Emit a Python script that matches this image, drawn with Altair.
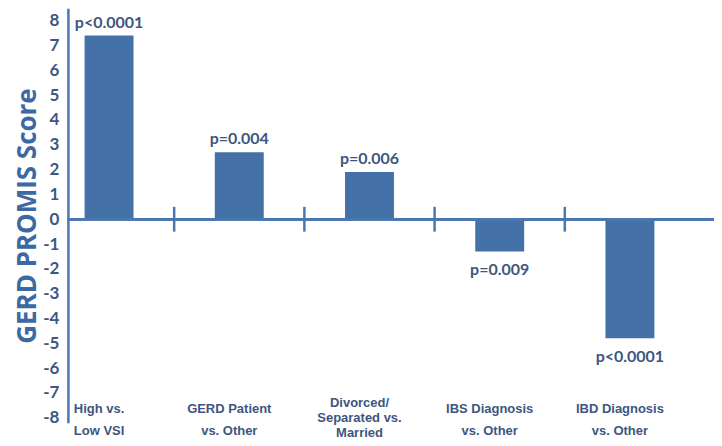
import altair as alt
import pandas as pd

categories = ["High vs.\nLow VSI", "GERD Patient\nvs. Other", "Divorced/\nSeparated vs.\nMarried",
              "IBS Diagnosis\nvs. Other", "IBD Diagnosis\nvs. Other"]
values = [7.4, 2.7, 1.9, -1.3, -4.8]
pvals = ["p<0.0001", "p=0.004", "p=0.006", "p=0.009", "p<0.0001"]
y_ticks = list(range(-8, 9))

BAR = "#4472A8"
LINE = "#4A78AE"
TXT = "#3E5680"
TITLE = "#3D69A3"

df = pd.DataFrame({"cat": categories, "val": values, "p": pvals,
                   "lines": [c.count("\n") + 1 for c in categories]})
df["sign"] = ["pos" if v >= 0 else "neg" for v in values]
div_df = pd.DataFrame({"cat": categories[1:]})

xscale = alt.Scale(domain=categories, range=[-24, 628], paddingInner=0, paddingOuter=0)
yscale = alt.Scale(domain=[-8.2, 8.5], nice=False, zero=False)

YAX = alt.Axis(values=y_ticks, tickSize=0, ticks=False, grid=False, labelPadding=9,
               labelOverlap=False, labelExpr="toString(datum.value)",
               labelFontSize=17, labelFontWeight="bold", labelColor=TXT,
               labelFont="Lato", domainColor=LINE, domainWidth=2.5,
               title="GERD PROMIS Score", titleFont="Open Sans", titleFontSize=26,
               titleFontWeight="bold", titleColor=TITLE, titlePadding=2)

X = alt.X("cat:N", scale=xscale, sort=categories, axis=None)
Yq = alt.Y("val:Q", scale=yscale, axis=YAX, title="GERD PROMIS Score")

base = alt.Chart(df)

bars = base.mark_bar(size=49, color=BAR).encode(x=X, y=Yq)

zero = alt.Chart(df).mark_rule(color=LINE, strokeWidth=2.5).encode(
    x=alt.value(0), x2=alt.value(647), y=alt.datum(0, axis=YAX, scale=yscale)
)

dividers = alt.Chart(div_df).mark_rule(color=LINE, strokeWidth=2.5).encode(
    x=alt.X("cat:N", scale=xscale, sort=categories, axis=None, bandPosition=0),
    y=alt.datum(0.5, axis=YAX, scale=yscale), y2=alt.datum(-0.5)
)

p_pos = base.transform_filter("datum.sign == 'pos'").mark_text(
    baseline="bottom", dy=-5, font="Lato", fontWeight="bold", fontSize=16, color=TXT
).encode(x=X, y=Yq, text="p:N")

p_neg = base.transform_filter("datum.sign == 'neg'").mark_text(
    baseline="top", dy=11, font="Lato", fontWeight="bold", fontSize=16, color=TXT
).encode(x=X, y=Yq, text="p:N")

lab2 = base.transform_filter("datum.lines == 2").mark_text(
    baseline="middle", lineBreak="\n", lineHeight=22, dx=-10, dy=-9, font="Liberation Sans",
    fontWeight="bold", fontSize=13, color=TXT
).encode(x=X, y=alt.datum(-8, axis=YAX, scale=yscale), text="cat:N")

lab3 = base.transform_filter("datum.lines == 3").mark_text(
    baseline="middle", lineBreak="\n", lineHeight=15, dx=-10, dy=-15, font="Liberation Sans",
    fontWeight="bold", fontSize=13, color=TXT
).encode(x=X, y=alt.datum(-8, axis=YAX, scale=yscale), text="cat:N")

chart = alt.layer(bars, zero, dividers, p_pos, p_neg, lab2, lab3).properties(
    width=647, height=415,
    autosize=alt.AutoSizeParams(type="none"),
    padding={"left": 60, "top": 0, "right": 0, "bottom": 22},
    background="white",
).configure_view(stroke=None)

chart.save("out.html", embed_options={"renderer": "svg", "actions": False})
